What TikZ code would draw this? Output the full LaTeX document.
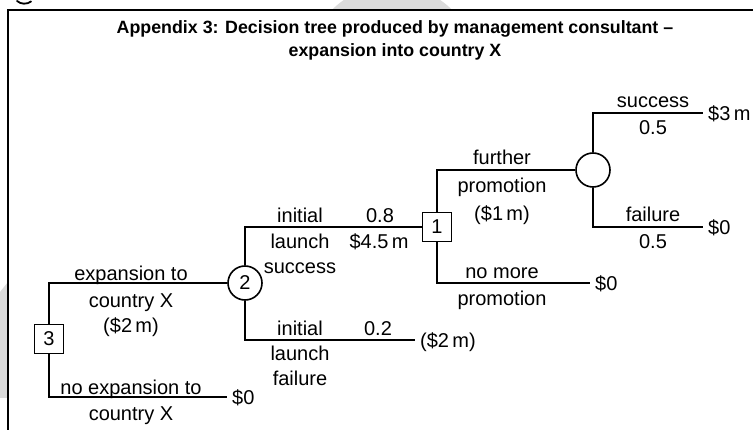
\documentclass[tikz,border=0pt]{standalone}
\usepackage{fontspec}
\setmainfont{Liberation Sans}
\begin{document}
\begin{tikzpicture}[x=1pt,y=-1pt,
  line/.style={line width=1.6pt, line join=miter},
  lbl/.style={font=\fontsize{20}{22}\selectfont, inner sep=0pt, text height=14.5pt, text depth=0pt, anchor=center},
  pay/.style={lbl, anchor=west, xshift=5pt},
  decision/.style={draw, line width=1.6pt, minimum size=29pt, inner sep=0pt, font=\fontsize{20}{22}\selectfont, fill=white},
  chance/.style={draw, circle, line width=1.6pt, minimum size=34pt, inner sep=0pt, font=\fontsize{20}{22}\selectfont, fill=white},
  ttl/.style={font=\bfseries\fontsize{17.8}{20}\selectfont, inner sep=0pt, text height=13pt, text depth=0pt, anchor=center}]
\useasboundingbox (0,0) rectangle (753,430);

% faint background marks outside the frame
\fill[gray!28] (392,70) circle (85pt);
\fill[gray!28] (0,292) -- (8,282) -- (8,398) -- (0,398) -- cycle;
% tail of a glyph above the frame
\draw[line width=1.8pt, line cap=round] (17,1) .. controls (21,4.5) and (27,4.5) .. (31,1.5);

% frame
\fill[white] (8,10) rectangle (753,430);
\draw[line width=1.8pt] (8,430) -- (8,10) -- (753,10);

% title
\node[ttl] (t1) at (395,27) {Appendix 3: Decision tree produced by management consultant –};
\node[ttl] (t2) at (395,50) {expansion into country X};

% decision and chance nodes
\node[decision] (d3) at (49,339) {3};
\node[chance] (c2) at (245,283) {2};
\node[decision] (d1) at (437,227) {1};
\node[chance] (c4) at (593,170) {};

% branch end points
\coordinate (noexp) at (227,397);
\coordinate (fail2) at (415,340);
\coordinate (nomore) at (590,283);
\coordinate (succ) at (703,113);
\coordinate (fail) at (703,227);

% connectors
\draw[line] (d3.north) |- (c2.west);
\draw[line] (d3.south) |- (noexp);
\draw[line] (c2.north) |- (d1.west);
\draw[line] (c2.south) |- (fail2);
\draw[line] (d1.north) |- (c4.west);
\draw[line] (d1.south) |- (nomore);
\draw[line] (c4.north) |- (succ);
\draw[line] (c4.south) |- (fail);

% payoffs
\node[pay] (p0a) at (noexp) {\$0};
\node[pay] (p2) at (fail2) {(\$2\,m)};
\node[pay] (p0b) at (nomore) {\$0};
\node[pay] (p3) at (succ) {\$3\,m};
\node[pay] (p0c) at (fail) {\$0};

% branch labels
\node[lbl] (a1) at (131,273) {expansion to};
\node[lbl] (a2) at (131,300) {country X};
\node[lbl] (a3) at (131,325) {(\$2\,m)};
\node[lbl] (b1) at (131,387) {no expansion to};
\node[lbl] (b2) at (131,413) {country X};

\node[lbl] (s1) at (300,215) {initial};
\node[lbl] (s2) at (300,241) {launch};
\node[lbl] (s3) at (300,266) {success};
\node[lbl] (s4) at (380,215) {0.8};
\node[lbl] (s5) at (379,241) {\$4.5\,m};

\node[lbl] (f1) at (300,328) {initial};
\node[lbl] (f2) at (300,353) {launch};
\node[lbl] (f3) at (300,378) {failure};
\node[lbl] (f4) at (378,328) {0.2};

\node[lbl] (g1) at (502,157) {further};
\node[lbl] (g2) at (502,185) {promotion};
\node[lbl] (g3) at (502,213) {(\$1\,m)};
\node[lbl] (h1) at (502,271) {no more};
\node[lbl] (h2) at (502,298) {promotion};

\node[lbl] (k1) at (653,100) {success};
\node[lbl] (k2) at (653,127) {0.5};
\node[lbl] (k3) at (653,214) {failure};
\node[lbl] (k4) at (653,241) {0.5};
\end{tikzpicture}
\end{document}
